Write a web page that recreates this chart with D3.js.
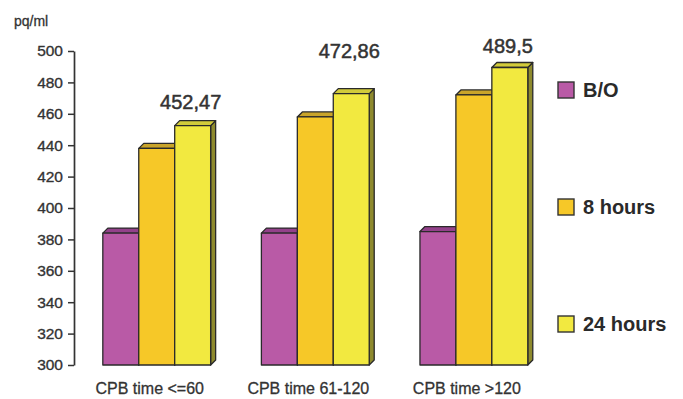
<!DOCTYPE html>
<html>
<head>
<meta charset="utf-8">
<script src="https://cdn.jsdelivr.net/npm/d3@7"></script>
<style>
  html, body { margin: 0; padding: 0; background: #fff; }
  svg { display: block; }
  text { font-family: "Liberation Sans", Arial, sans-serif; }
</style>
</head>
<body>
<svg id="chart" width="683" height="399"></svg>
<script>
// Group labels along the x axis
const categories = ["CPB time <=60", "CPB time 61-120", "CPB time >120"];
// Measurement times (series)
const seriesNames = ["B/O", "8 hours", "24 hours"];
// Values per series, one entry per category
const valuesBO = [384, 384, 385];
const values8h = [438, 458, 472];
const values24h = [452.47, 472.86, 489.5];
// Value labels shown above the 24-hour bars
const valueLabels = ["452,47", "472,86", "489,5"];
// Y axis ticks
const yTicks = [300, 320, 340, 360, 380, 400, 420, 440, 460, 480, 500];

const seriesValues = [valuesBO, values8h, values24h];

// Colours: front, top, side
const palette = [
  { front: "#B95AA6", top: "#93418A", side: "#7A3272" },
  { front: "#F6C828", top: "#C9A42A", side: "#9C8424" },
  { front: "#F2E940", top: "#D2CB3A", side: "#8E8A2E" }
];

const svg = d3.select("#chart");
const depth = 5;                // 3D offset of bar tops and sides
const labelLift = [17, 36, 14]; // distance of each value label above its bar

const y = d3.scaleLinear().domain([300, 500]).range([365, 51]);

const x0 = d3.scaleBand()
  .domain(categories)
  .range([60, 570.6])
  .paddingInner(0.32)
  .paddingOuter(0.27);

const x1 = d3.scaleBand()
  .domain(seriesNames)
  .range([0, x0.bandwidth()])
  .padding(0);

// Y axis
const yAxis = d3.axisLeft(y)
  .tickValues(yTicks)
  .tickSize(6)
  .tickSizeOuter(0)
  .tickPadding(5);

const gAxis = svg.append("g")
  .attr("transform", "translate(74,0)")
  .call(yAxis);
gAxis.select(".domain").attr("stroke", "#333").attr("stroke-width", 1.7);
gAxis.selectAll(".tick line").attr("stroke", "#333").attr("stroke-width", 1.5);
gAxis.selectAll(".tick text")
  .attr("fill", "#333")
  .attr("stroke", "#333")
  .attr("stroke-width", 0.35)
  .style("font-size", "15.5px")
  .style("font-family", "'Liberation Sans', Arial, sans-serif");

// Unit label
svg.append("text")
  .attr("x", 14)
  .attr("y", 26)
  .attr("fill", "#333")
  .attr("stroke", "#333")
  .attr("stroke-width", 0.3)
  .style("font-size", "14px")
  .text("pq/ml");

// Bars (drawn left to right so each bar covers the side of the previous one)
const groups = svg.append("g").selectAll("g.group")
  .data(categories)
  .join("g")
  .attr("class", "group")
  .attr("transform", d => `translate(${x0(d)},0)`);

groups.each(function (cat, ci) {
  const g = d3.select(this);
  seriesNames.forEach((s, si) => {
    const v = seriesValues[si][ci];
    const xl = x1(s);
    const w = x1.bandwidth();
    const yt = y(v);
    const yb = y(300);
    const c = palette[si];
    const bar = g.append("g").attr("stroke", "#2a2a2a").attr("stroke-width", 1.3)
      .attr("stroke-linejoin", "round");
    // side face
    bar.append("path")
      .attr("fill", c.side)
      .attr("d", `M${xl + w},${yt} L${xl + w + depth},${yt - depth} L${xl + w + depth},${yb - depth} L${xl + w},${yb} Z`);
    // top face
    bar.append("path")
      .attr("fill", c.top)
      .attr("d", `M${xl},${yt} L${xl + depth},${yt - depth} L${xl + w + depth},${yt - depth} L${xl + w},${yt} Z`);
    // front face
    bar.append("rect")
      .attr("x", xl)
      .attr("y", yt)
      .attr("width", w)
      .attr("height", yb - yt)
      .attr("fill", c.front);
  });
  // value label over the 24-hour bar
  const last = seriesNames[2];
  g.append("text")
    .attr("x", x1(last) + x1.bandwidth() / 2 - 2)
    .attr("y", y(values24h[ci]) - labelLift[ci])
    .attr("text-anchor", "middle")
    .attr("fill", "#333")
    .attr("stroke", "#333")
    .attr("stroke-width", 0.5)
    .style("font-size", "20px")
    .text(valueLabels[ci]);
});

// Category labels
svg.append("g").selectAll("text")
  .data(categories)
  .join("text")
  .attr("x", d => x0(d) + x0.bandwidth() / 2 - 7)
  .attr("y", 394)
  .attr("text-anchor", "middle")
  .attr("fill", "#333")
  .attr("stroke", "#333")
  .attr("stroke-width", 0.3)
  .style("font-size", "16px")
  .text(d => d);

// Legend
const legendY = d3.scalePoint().domain(seriesNames).range([82, 316]);
const legend = svg.append("g").selectAll("g")
  .data(seriesNames)
  .join("g")
  .attr("transform", d => `translate(558,${legendY(d)})`);
legend.append("rect")
  .attr("width", 16)
  .attr("height", 16)
  .attr("fill", (d, i) => palette[i].front)
  .attr("stroke", "#333")
  .attr("stroke-width", 1.4);
legend.append("text")
  .attr("x", 25)
  .attr("y", 15)
  .attr("fill", "#2a2a2a")
  .style("font-size", "20px")
  .style("font-weight", "bold")
  .text(d => d);
</script>
</body>
</html>
